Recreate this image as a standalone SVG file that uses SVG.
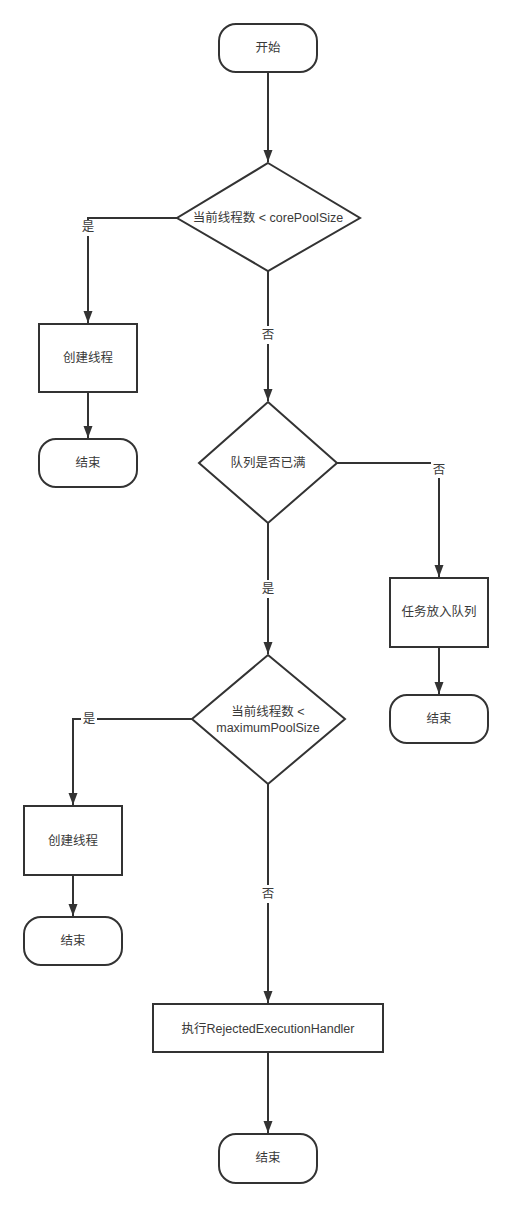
<svg xmlns="http://www.w3.org/2000/svg" width="512" height="1207" viewBox="0 0 512 1207">
<style>
.s{fill:#fff;stroke:#333;stroke-width:2}
.t{font-family:"Liberation Sans","Noto Sans CJK SC",sans-serif;font-size:12.5px;fill:#3a3a3a;text-anchor:middle;dominant-baseline:central}
.c{fill:none;stroke:#333;stroke-width:2}
.lb{fill:#fff;stroke:none}
</style>
<defs>
<marker id="ah" viewBox="0 0 12 10" refX="12" refY="5" markerWidth="12" markerHeight="10" markerUnits="userSpaceOnUse" orient="auto">
<path d="M0,0.5 L12,5 L0,9.5 Z" fill="#333"/>
</marker>
</defs>
<rect width="512" height="1207" fill="#fff"/>
<g id="connectors">
<path class="c" d="M268,72 V162" marker-end="url(#ah)"/>
<path class="c" d="M177,218 H88 V323" marker-end="url(#ah)"/>
<path class="c" d="M268,271 V401" marker-end="url(#ah)"/>
<path class="c" d="M88,392 V438" marker-end="url(#ah)"/>
<path class="c" d="M337,463 H439 V577" marker-end="url(#ah)"/>
<path class="c" d="M439,647 V694" marker-end="url(#ah)"/>
<path class="c" d="M268,523 V654" marker-end="url(#ah)"/>
<path class="c" d="M192,719 H73 V805" marker-end="url(#ah)"/>
<path class="c" d="M73,875 V916" marker-end="url(#ah)"/>
<path class="c" d="M268,784 V1003" marker-end="url(#ah)"/>
<path class="c" d="M268,1052 V1133" marker-end="url(#ah)"/>
<rect class="lb" x="80" y="220" width="16" height="16"/>
<text class="t" x="88" y="227">是</text>
<rect class="lb" x="260" y="326" width="16" height="18"/>
<text class="t" x="268" y="335">否</text>
<rect class="lb" x="431" y="462" width="16" height="16"/>
<text class="t" x="439" y="470">否</text>
<rect class="lb" x="260" y="580" width="16" height="18"/>
<text class="t" x="268" y="589">是</text>
<rect class="lb" x="81" y="711" width="16" height="16"/>
<text class="t" x="89" y="719">是</text>
<rect class="lb" x="260" y="885" width="16" height="18"/>
<text class="t" x="268" y="894">否</text>
</g>
<g id="start">
<rect class="s" x="219" y="24" width="98" height="48" rx="17"/>
<text class="t" x="268" y="48">开始</text>
</g>
<g id="d1">
<polygon class="s" points="268,163 360,218 268,271 177,218"/>
<text class="t" x="268" y="218">当前线程数 &lt; corePoolSize</text>
</g>
<g id="create1">
<rect class="s" x="39" y="324" width="98" height="68"/>
<text class="t" x="88" y="358">创建线程</text>
</g>
<g id="end1">
<rect class="s" x="39" y="439" width="98" height="48" rx="17"/>
<text class="t" x="88" y="463">结束</text>
</g>
<g id="d2">
<polygon class="s" points="268,402 337,463 268,523 199,463"/>
<text class="t" x="268" y="463">队列是否已满</text>
</g>
<g id="enqueue">
<rect class="s" x="390" y="578" width="98" height="69"/>
<text class="t" x="439" y="612">任务放入队列</text>
</g>
<g id="end2">
<rect class="s" x="390" y="695" width="98" height="48" rx="17"/>
<text class="t" x="439" y="719">结束</text>
</g>
<g id="d3">
<polygon class="s" points="268,655 345,719 268,784 192,719"/>
<text class="t" x="268" y="712">当前线程数 &lt;</text>
<text class="t" x="268" y="728">maximumPoolSize</text>
</g>
<g id="create2">
<rect class="s" x="24" y="806" width="98" height="69"/>
<text class="t" x="73" y="841">创建线程</text>
</g>
<g id="end3">
<rect class="s" x="24" y="917" width="98" height="48" rx="17"/>
<text class="t" x="73" y="941">结束</text>
</g>
<g id="reject">
<rect class="s" x="153" y="1004" width="230" height="48"/>
<text class="t" x="268" y="1029">执行RejectedExecutionHandler</text>
</g>
<g id="end4">
<rect class="s" x="219" y="1134" width="98" height="49" rx="17"/>
<text class="t" x="268" y="1158">结束</text>
</g>
</svg>
